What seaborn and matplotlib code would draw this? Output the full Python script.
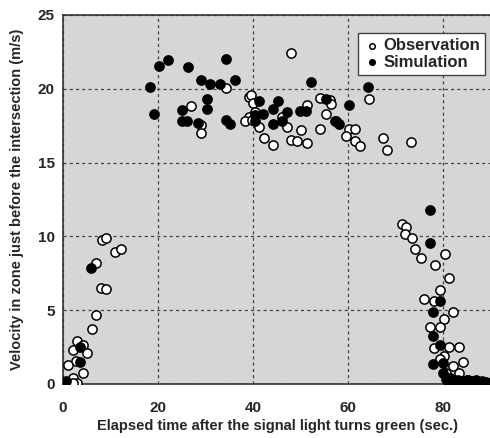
import matplotlib
matplotlib.use("Agg")
import matplotlib.pyplot as plt
import seaborn as sns
import pandas as pd

# Observation (open circles)
obs_x = [8.1, 9.0, 10.9, 12.1, 6.9, 8.0, 9.0, 6.9, 6.1, 2.9, 2.0, 4.3, 5.0, 2.7,
         1.0, 4.1, 2.0, 3.0, 2.0,
         34.2, 27.0, 29.1, 29.0, 39.1, 39.1, 38.2,
         48.0, 39.6, 40.0, 40.3, 39.7, 41.2, 42.2, 44.2, 46.1, 47.2, 48.0, 49.1,
         51.3, 50.1, 51.2, 54.1, 56.1, 56.3, 55.3, 54.1, 57.4, 60.2, 61.3, 59.4,
         61.3, 62.4, 64.3, 67.3, 68.2, 73.2,
         71.2, 72.2, 72.0, 73.3, 74.1, 75.2, 78.2, 80.3, 81.2, 79.2, 75.9, 78.0,
         82.1, 80.1, 77.1, 79.2, 78.0, 81.2, 83.2, 80.1, 79.2, 82.1, 84.2, 83.3, 80.6]
obs_y = [9.76, 9.88, 8.97, 9.15, 8.18, 6.53, 6.44, 4.68, 3.75, 2.94, 2.30, 2.64, 2.08, 1.58,
         1.29, 0.72, 0.38, 0.09, 0.09,
         20.05, 18.80, 17.56, 17.00, 19.44, 18.12, 17.85,
         22.42, 19.60, 19.03, 18.40, 17.90, 17.44, 16.65, 16.20, 18.12, 17.40, 16.50, 16.43,
         16.32, 17.22, 18.92, 19.37, 19.25, 18.96, 18.28, 17.27, 17.85, 17.27, 17.27, 16.81,
         16.43, 16.14, 19.34, 16.65, 15.86, 16.38,
         10.85, 10.62, 10.17, 9.92, 9.15, 8.56, 8.07, 8.81, 7.17, 6.37, 5.76, 5.63,
         4.90, 4.41, 3.89, 3.84, 2.42, 2.53, 2.53, 1.90, 1.67, 1.22, 1.51, 0.72, 0.72]

# Simulation (filled circles)
sim_x = [5.8, 3.6, 3.6, 0.6,
         18.3, 19.1, 20.2, 22.1, 26.2, 34.2, 29.0, 31.0, 33.1, 36.1, 30.2, 30.2,
         25.1, 25.1, 26.1, 28.3, 34.2, 35.1,
         41.2, 45.2, 44.2, 42.1, 40.3, 40.3, 44.2, 46.1, 47.2, 49.9, 51.0, 52.1,
         55.3, 57.1, 58.0, 60.2, 64.1,
         77.1, 77.1, 79.2, 77.9, 77.9, 79.2, 77.9, 80.0, 80.0,
         80.6, 81.0, 81.4, 81.8, 82.2, 82.6, 83.0, 83.4, 83.8, 84.2, 84.6, 85.0,
         85.5, 86.0, 86.5, 87.0, 87.5, 88.0, 88.5, 89.0, 89.5, 81.2, 82.4, 83.6, 85.2, 86.8]
sim_y = [7.84, 2.53, 1.52, 0.22,
         20.09, 18.30, 21.56, 21.92, 21.50, 22.00, 20.60, 20.32, 20.32, 20.60, 19.32, 18.62,
         18.53, 17.79, 17.79, 17.67, 17.90, 17.63,
         19.14, 19.19, 18.64, 18.30, 17.79, 18.20, 17.63, 17.85, 18.40, 18.50, 18.50, 20.43,
         19.30, 17.83, 17.63, 18.92, 20.09,
         11.80, 9.58, 5.63, 4.90, 3.28, 2.64, 1.36, 1.40, 0.72,
         0.35, 0.15, 0.40, 0.10, 0.30, 0.05, 0.25, 0.10, 0.20, 0.05, 0.15, 0.25,
         0.10, 0.20, 0.05, 0.15, 0.10, 0.20, 0.05, 0.15, 0.10, 0.05, 0.05, 0.05, 0.30, 0.25]

obs = pd.DataFrame({"t": obs_x, "v": obs_y})
sim = pd.DataFrame({"t": sim_x, "v": sim_y})

sns.set_style("white")
plt.rcParams["font.family"] = ["Liberation Sans", "DejaVu Sans"]
plt.rcParams["font.weight"] = "bold"

fig = plt.figure(figsize=(4.9, 4.38), dpi=100)
ax = fig.add_axes([0.1286, 0.1233, 0.8735, 0.8425])
ax.set_facecolor("#d6d6d6")

sns.scatterplot(data=obs, x="t", y="v", ax=ax, s=44, facecolor="white",
                edgecolor="black", linewidth=1.1, label="Observation", zorder=3)
sns.scatterplot(data=sim, x="t", y="v", ax=ax, s=44, color="black",
                edgecolor="black", linewidth=1.1, label="Simulation", zorder=4)

ax.set_xlim(0, 90)
ax.set_ylim(0, 25)
ax.set_xticks([0, 20, 40, 60, 80])
ax.set_yticks([0, 5, 10, 15, 20, 25])
ax.grid(True, color="#444444", linestyle=(0, (2.5, 2.5)), linewidth=0.9)
ax.set_axisbelow(True)
ax.tick_params(length=0, labelsize=11)
ax.tick_params(axis="x", pad=12)
ax.tick_params(axis="y", pad=6)
for lab in ax.get_xticklabels() + ax.get_yticklabels():
    lab.set_fontweight("bold")

for side in ["left", "bottom", "top"]:
    ax.spines[side].set_color("#333333")
    ax.spines[side].set_linewidth(1.2)
ax.spines["right"].set_visible(False)

ax.set_xlabel("Elapsed time after the signal light turns green (sec.)",
              fontsize=10.5, fontweight="bold", labelpad=3)
ax.set_ylabel("Velocity in zone just before the intersection (m/s)",
              fontsize=10.5, fontweight="bold", labelpad=10)

leg = ax.legend(loc="upper right", bbox_to_anchor=(0.986, 0.951), borderaxespad=0,
                frameon=True, fancybox=False, edgecolor="#444444", framealpha=1,
                prop={"weight": "bold", "size": 12}, handletextpad=0.2,
                borderpad=0.3, labelspacing=0.1, handlelength=1.0, markerscale=0.6)
leg.get_frame().set_linewidth(1.0)

fig.savefig("out.png", dpi=100)
